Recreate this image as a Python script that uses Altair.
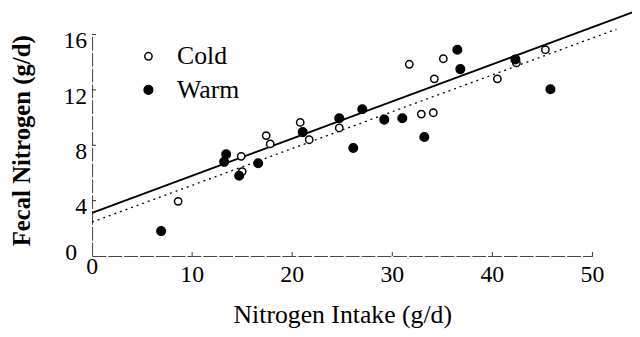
import altair as alt
import pandas as pd

# ---- data ----
cold_x = [8.6, 14.9, 15.0, 17.4, 17.8, 20.8, 21.7, 24.7, 31.7, 32.9, 34.1, 34.2, 35.1, 40.5, 42.4, 45.3]
cold_y = [3.95, 7.2, 6.1, 8.7, 8.1, 9.65, 8.4, 9.25, 13.85, 10.25, 10.35, 12.8, 14.25, 12.8, 13.95, 14.9]
warm_x = [6.9, 13.2, 13.4, 14.7, 16.6, 21.05, 24.7, 26.1, 27.0, 29.2, 31.0, 33.2, 36.5, 36.8, 42.3, 45.8]
warm_y = [1.8, 6.8, 7.35, 5.8, 6.7, 8.95, 9.95, 7.8, 10.6, 9.85, 9.95, 8.6, 14.9, 13.5, 14.2, 12.05]

solid_x = [0, 54.0]
solid_y = [3.12, 17.6]
dotted_x = [0, 52.4]
dotted_y = [2.45, 16.38]

x_ticks = [10, 20, 30, 40, 50]
y_ticks = [4, 8, 12, 16]
origin_label = "0"

groups = ["Cold", "Warm"]

pts = pd.DataFrame({
    "x": cold_x + warm_x,
    "y": cold_y + warm_y,
    "g": ["Cold"] * len(cold_x) + ["Warm"] * len(warm_x),
})
solid = pd.DataFrame({"x": solid_x, "y": solid_y})
dotted = pd.DataFrame({"x": dotted_x, "y": dotted_y})
xt = pd.DataFrame({"x": x_ticks, "y": [0] * len(x_ticks), "t": [str(v) for v in x_ticks]})
yt = pd.DataFrame({"y": y_ticks, "x": [0] * len(y_ticks), "t": [str(v) for v in y_ticks]})
origin = pd.DataFrame({"x": [0], "y": [0], "t": [origin_label]})

FONT = "Liberation Serif"

x_scale = alt.Scale(domain=[0, 50], nice=False, zero=False)
y_scale = alt.Scale(domain=[0, 16], nice=False, zero=False)

x_axis = alt.Axis(
    title="Nitrogen Intake (g/d)",
    values=x_ticks,
    ticks=False, grid=False, labels=False,
    titleFont=FONT, titleColor="black",
    titleFontSize=26, titleFontWeight="normal",
    titleBaseline="alphabetic", titleY=67,
)
y_axis = alt.Axis(
    title="Fecal Nitrogen (g/d)",
    values=y_ticks,
    ticks=False, grid=False, labels=False,
    titleFont=FONT, titleColor="black",
    titleFontSize=25, titleFontWeight="bold",
    titleX=-71, titleY=107, titleBaseline="middle", titleAngle=-90,
)


def X(field="x"):
    return alt.X(f"{field}:Q", scale=x_scale, axis=x_axis)


def Y(field="y"):
    return alt.Y(f"{field}:Q", scale=y_scale, axis=y_axis)


legend = alt.Legend(title=None, orient="none", legendX=44, legendY=9,
                    labelFont=FONT, labelFontSize=26, labelColor="black",
                    labelOffset=16, rowPadding=8, padding=0,
                    labelBaseline="middle")

points = alt.Chart(pts).mark_point(filled=True, strokeWidth=1.5, opacity=1).encode(
    x=X(), y=Y(),
    fill=alt.Fill("g:N", scale=alt.Scale(domain=groups, range=["white", "black"]), legend=legend),
    stroke=alt.Stroke("g:N", scale=alt.Scale(domain=groups, range=["black", "black"]), legend=legend),
    size=alt.Size("g:N", scale=alt.Scale(domain=groups, range=[55, 75]), legend=legend),
)

solid_line = alt.Chart(solid).mark_line(color="black", strokeWidth=2).encode(x=X(), y=Y())
dotted_line = alt.Chart(dotted).mark_line(color="black", strokeWidth=1.3, strokeDash=[2, 4]).encode(x=X(), y=Y())

x_tick_marks = alt.Chart(xt).mark_rule(color="#333", strokeWidth=1).encode(
    x=X(), y=alt.value(224), y2=alt.value(220))
y_tick_marks = alt.Chart(yt).mark_rule(color="#333", strokeWidth=1).encode(
    y=Y(), x=alt.value(0), x2=alt.value(4))

x_labels = alt.Chart(xt).mark_text(font=FONT, fontSize=24, color="black", dy=7,
                                   baseline="top", align="center").encode(x=X(), y=Y(), text="t:N")
y_labels = alt.Chart(yt).mark_text(font=FONT, fontSize=24, color="black", dx=-5, dy=-5,
                                   baseline="top", align="right").encode(x=X(), y=Y(), text="t:N")

x_zero = alt.Chart(origin).mark_text(font=FONT, fontSize=24, color="black", dx=0, dy=11,
                                     baseline="middle", align="center").encode(x=X(), y=Y(), text="t:N")
y_zero = alt.Chart(origin).mark_text(font=FONT, fontSize=24, color="black", dx=-21, dy=-3,
                                     baseline="middle", align="center").encode(x=X(), y=Y(), text="t:N")

chart = alt.layer(dotted_line, solid_line, x_tick_marks, y_tick_marks,
                  x_labels, y_labels, x_zero, y_zero, points).properties(
    width=506, height=224,
    autosize=alt.AutoSizeParams(type="none"),
    padding={"left": 85, "top": 25, "right": 40, "bottom": 72},
    background="white",
).configure_view(stroke=None).configure_axis(
    domainColor="#444", domainWidth=1, domainDash=[14, 2],
)

chart.save("out.html", embed_options={"renderer": "svg", "actions": False})
